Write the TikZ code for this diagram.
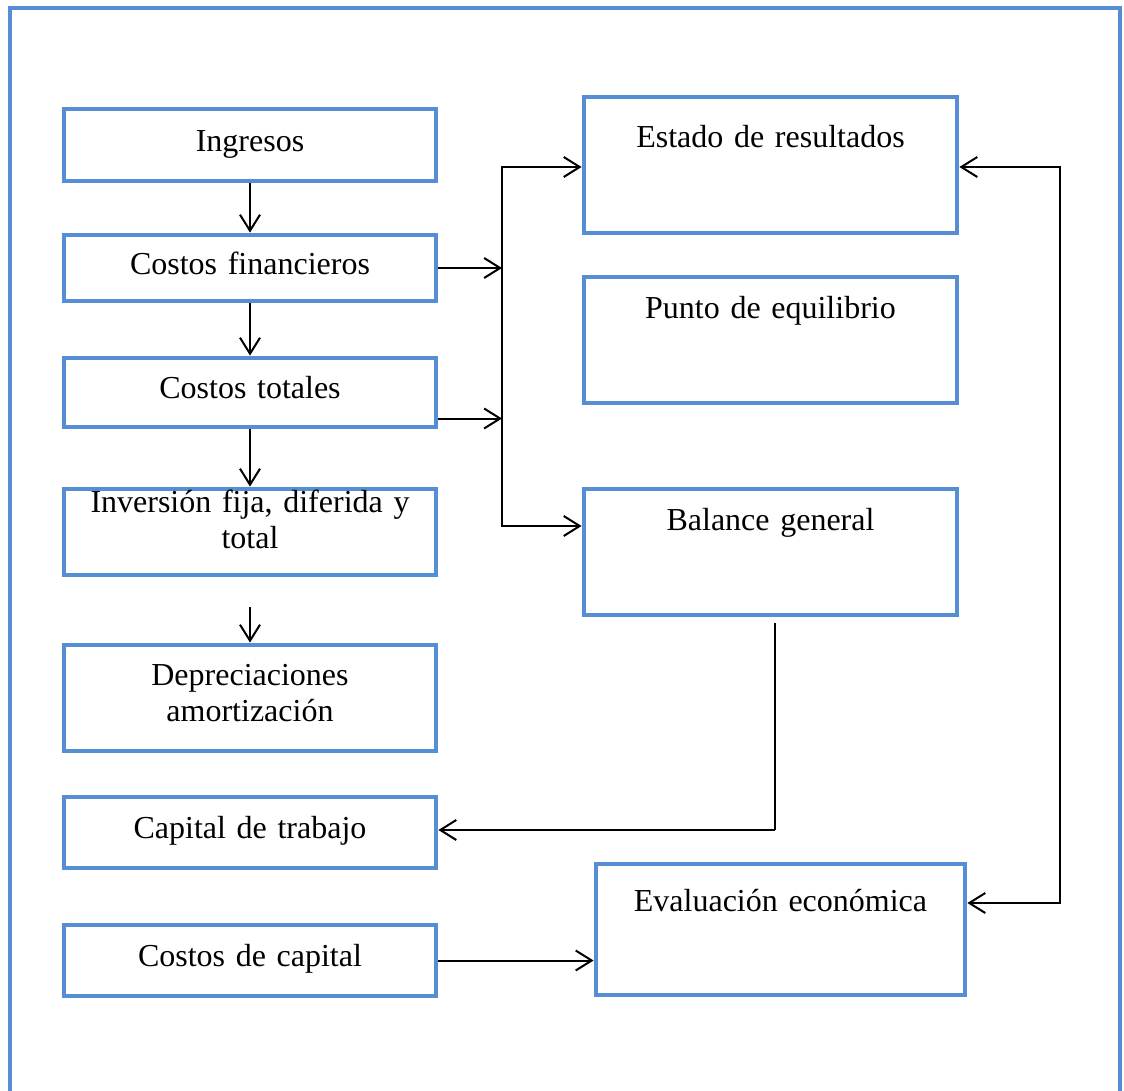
\documentclass[tikz,border=0pt]{standalone}
\usepackage{fontspec}
\setmainfont{Liberation Serif}
\usetikzlibrary{arrows.meta}
\definecolor{boxblue}{RGB}{85,142,213}
\tikzstyle{box}=[draw=boxblue,line width=2.4pt,rectangle,minimum width=186pt,text width=180pt,align=center,inner xsep=2pt,inner ysep=0pt,text height=11.2pt,text depth=4.8pt,font=\fontsize{16pt}{18pt}\selectfont]
\tikzstyle{wide box}=[box,minimum width=186.5pt]
\tikzstyle{edge}=[draw,line width=1pt,->]
\tikzstyle{outer frame}=[draw=boxblue,line width=2pt]

\begin{document}
\begin{tikzpicture}[x=0.5pt,y=-0.5pt,>={Straight Barb[length=8pt,width=10pt]}]
	\useasboundingbox (0,0) rectangle (1124,1091);
	% the frame round everything, open at the bottom
	\path[outer frame] (10,1091) -- (10,8) -- (1120,8) -- (1120,1091);

	% First we draw the boxes of the left column
	\foreach \pos/\h/\name/\txt in {{(250,145)/36pt/ing/Ingresos}, {(250,268)/33pt/cfin/Costos financieros}, {(250,392.5)/34.5pt/ctot/Costos totales}, {(250,832.5)/35.5pt/cap/Capital de trabajo}, {(250,960.5)/35.5pt/ccap/Costos de capital}}
		\node[box,minimum height=\h] (\name) at \pos {\txt};
	\node[box,minimum height=43pt,text depth=31.2pt] (inv) at (250,532) {Inversión fija, diferida y\\total};
	\node[box,minimum height=53pt,text depth=24.2pt] (dep) at (250,698) {Depreciaciones\\amortización};

	% then the boxes of the right column
	\foreach \pos/\h/\d/\name/\txt in {{(770.5,165)/68pt/28.2pt/est/Estado de resultados}, {(770.5,340)/63pt/33.2pt/pto/Punto de equilibrio}, {(770.5,552)/63pt/33.2pt/bal/Balance general}}
		\node[wide box,minimum height=\h,text depth=\d] (\name) at \pos {\txt};
	\node[box,minimum width=184.5pt,minimum height=65.5pt,text depth=29.2pt] (eval) at (780.5,929.5) {Evaluación económica};

	% Connect the boxes of the left column
	\foreach \source/\dest in {ing/cfin, cfin/ctot, ctot/inv}
		\path[edge] (\source) -- (\dest);
	\path[edge,shorten <=15pt] (inv) -- (dep);

	% the bus between the two columns
	\coordinate (bustop) at (502,167);
	\coordinate (busbot) at (502,526);
	\path[edge] (cfin.east) -- (cfin.east -| bustop);
	\path[edge] ([yshift=-13pt]ctot.east) -- ([yshift=-13pt]ctot.east -| bustop);
	\path[edge,<->] (bustop -| est.west) -- (bustop) -- (busbot) -- (busbot -| bal.west);

	% Balance general back to Capital de trabajo
	\coordinate (baldrop) at (775,830);
	\draw[line width=0.6pt] ([yshift=-3pt]bal.south -| baldrop) -- (baldrop);
	\path[edge] (baldrop) -- (baldrop -| cap.east);

	% the loop on the right and the last arrow
	\coordinate (looptop) at (1060,167);
	\coordinate (loopbot) at (1060,903);
	\path[edge,<->] (looptop -| est.east) -- (looptop) -- (loopbot) -- (loopbot -| eval.east);
	\path[edge] (ccap.east) -- (ccap.east -| eval.west);
\end{tikzpicture}
\end{document}
